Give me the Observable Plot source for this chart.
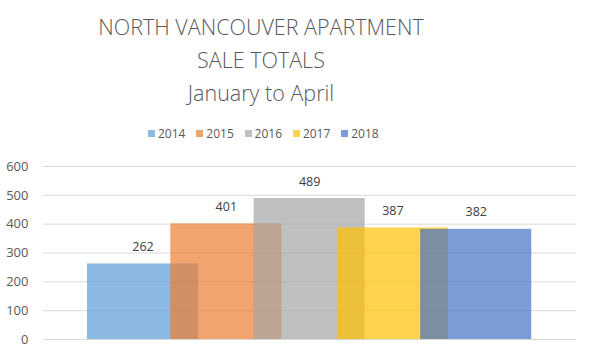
<!DOCTYPE html>
<html>
<head>
<meta charset="utf-8">
<script src="https://cdn.jsdelivr.net/npm/d3@7"></script>
<script src="https://cdn.jsdelivr.net/npm/@observablehq/plot@0.6"></script>
<style>
  html, body { margin: 0; padding: 0; background: #fff; }
  #wrap { position: relative; width: 589px; height: 356px; font-family: "Open Sans", sans-serif; }
  #title { position: absolute; left: 0; top: 10px; width: 522px; text-align: center; font-weight: 300; font-size: 21.5px; line-height: 33px; color: #595959; z-index: 2; }
  #legend { position: absolute; left: 148px; top: 124px; height: 18px; display: flex; z-index: 2; font-size: 12px; color: #595959; }
  .item { width: 48.3px; display: flex; align-items: center; }
  .sw { width: 7px; height: 7px; margin-right: 3px; }
  #chart { position: absolute; left: 0; top: 0; }
</style>
</head>
<body>
<div id="wrap">
  <div id="title">NORTH VANCOUVER APARTMENT<br>SALE TOTALS<br>January to April</div>
  <div id="legend"></div>
  <div id="chart"></div>
</div>
<script>
const years = ["2014", "2015", "2016", "2017", "2018"];
const sales = [262, 401, 489, 387, 382];
const colors = ["#5B9BD5", "#ED7D31", "#A5A5A5", "#FFC000", "#4472C4"];
const yTicks = [0, 100, 200, 300, 400, 500, 600];

const data = years.map((year, i) => ({ year, value: sales[i], i }));
const span = 4 / 3; // bar width relative to step (bars overlap)

const legend = document.getElementById("legend");
years.forEach((y, i) => {
  const it = document.createElement("div");
  it.className = "item";
  const sw = document.createElement("span");
  sw.className = "sw";
  sw.style.background = colors[i];
  sw.style.opacity = 0.7;
  it.appendChild(sw);
  const t = document.createElement("span");
  t.textContent = y;
  it.appendChild(t);
  legend.appendChild(it);
});

const chart = Plot.plot({
  width: 589,
  height: 356,
  marginTop: 166,
  marginBottom: 17,
  marginLeft: 43,
  marginRight: 13,
  style: { fontFamily: "Open Sans, sans-serif", background: "transparent", color: "#595959" },
  x: { type: "linear", domain: [-0.528, 5.87], axis: null },
  y: { domain: [0, 600] },
  color: { domain: years, range: colors },
  marks: [
    Plot.gridY(yTicks, { stroke: "#D9D9D9", strokeOpacity: 1 }),
    Plot.axisY(yTicks, { tickSize: 0, tickPadding: 15, fontSize: 13, fill: "#595959", label: null, tickFormat: d => String(d) }),
    Plot.rectY(data, { x1: d => d.i, x2: d => d.i + span, y: "value", fill: "year", fillOpacity: 0.7 }),
    Plot.text(data, { x: d => d.i + span / 2, y: "value", text: d => String(d.value), dy: -17, fontSize: 12.5, fill: "#404040" })
  ]
});
document.getElementById("chart").appendChild(chart);
</script>
</body>
</html>
